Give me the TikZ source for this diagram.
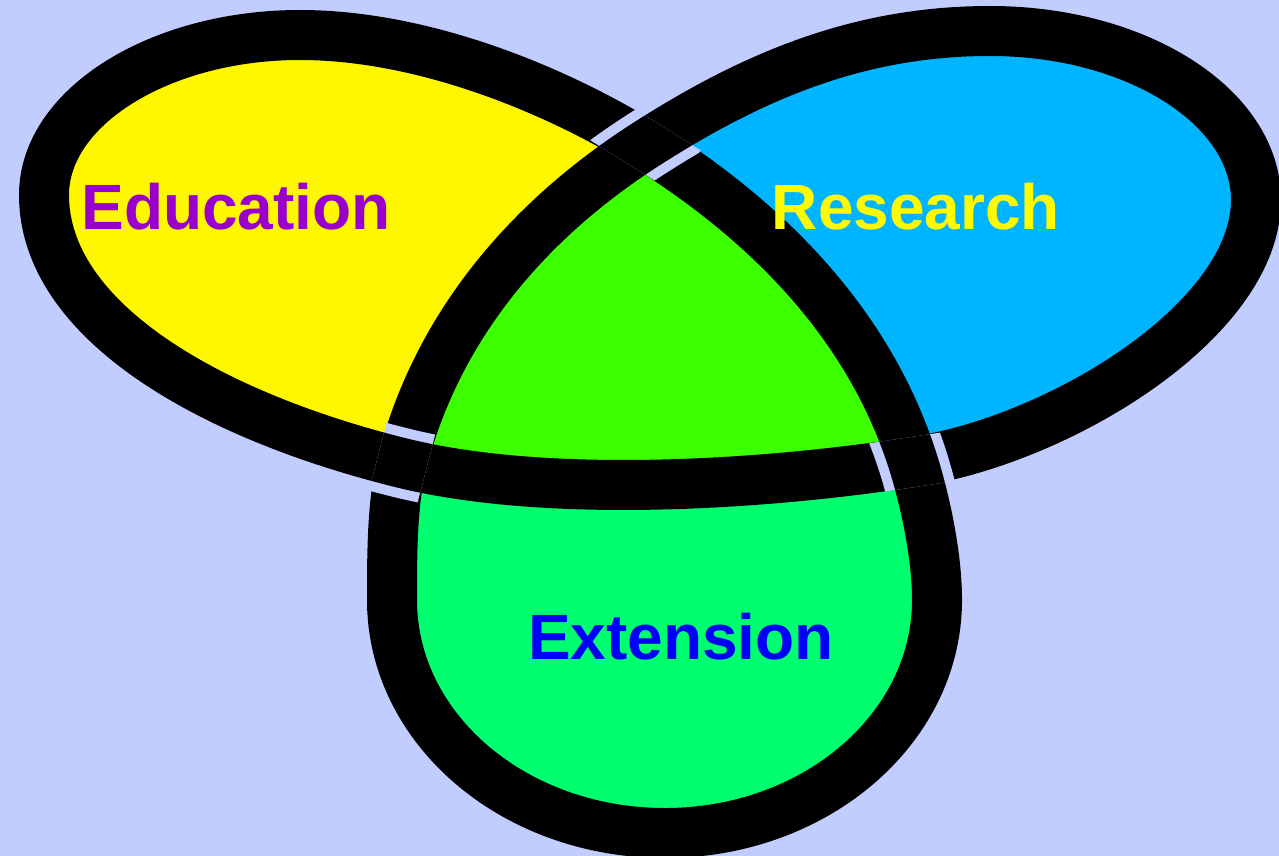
\documentclass[tikz,border=0pt]{standalone}
\usepackage{fontspec}
\setmainfont{Liberation Sans}
\definecolor{bgc}{RGB}{193,204,255}
\definecolor{eduFill}{RGB}{255,247,0}
\definecolor{resFill}{RGB}{0,181,255}
\definecolor{cenFill}{RGB}{60,255,0}
\definecolor{extFill}{RGB}{0,255,110}
\definecolor{eduText}{RGB}{153,0,204}
\definecolor{resText}{RGB}{255,250,0}
\definecolor{extText}{RGB}{0,0,250}
\begin{document}
\begin{tikzpicture}[x=1pt,y=-1pt,line join=round]
\tikzset{
  band/.style={draw=black, line width=50pt},
  halo/.style={draw=bgc, line width=70pt},
  lbl/.style={font=\bfseries\fontsize{64}{64}\selectfont, anchor=base, inner sep=0pt}
}
\useasboundingbox (0,0) rectangle (1279,856);
\fill[bgc] (0,0) rectangle (1279,856);

% crossings
\coordinate (T) at (645,145);
\coordinate (L) at (402,463);
\coordinate (R) at (913,462);

% lobe fills
\fill[eduFill] (L) .. controls (208,415) and (44,320) .. (44,195)
  .. controls (44,107) and (160,35) .. (300,35)
  .. controls (420,35) and (551,87) .. (T)
  .. controls (527,221) and (437,327) .. (L) -- cycle;
\fill[resFill] (T) .. controls (754,75) and (860,31) .. (990,31)
  .. controls (1137,31) and (1256,107) .. (1256,200)
  .. controls (1256,320) and (1060,440) .. (R)
  .. controls (869,324) and (768,222) .. (T) -- cycle;
\fill[extFill] (R) .. controls (925,500) and (937,555) .. (937,600)
  .. controls (937,729) and (815,833) .. (665,833)
  .. controls (514,833) and (392,729) .. (392,600)
  .. controls (392,555) and (392,502) .. (L)
  .. controls (548,499) and (764,485) .. (R) -- cycle;
\fill[cenFill] (T) .. controls (768,222) and (869,324) .. (R)
  .. controls (764,485) and (548,499) .. (L)
  .. controls (437,327) and (527,221) .. (T) -- cycle;

% the knot band
\draw[band] (T) .. controls (768,222) and (869,324) .. (R)
  .. controls (925,500) and (937,555) .. (937,600)
  .. controls (937,729) and (815,833) .. (665,833)
  .. controls (514,833) and (392,729) .. (392,600)
  .. controls (392,555) and (392,502) .. (L)
  .. controls (437,327) and (527,221) .. (T)
  .. controls (754,75) and (860,31) .. (990,31)
  .. controls (1137,31) and (1256,107) .. (1256,200)
  .. controls (1256,320) and (1060,440) .. (R)
  .. controls (764,485) and (548,499) .. (L)
  .. controls (208,415) and (44,320) .. (44,195)
  .. controls (44,107) and (160,35) .. (300,35)
  .. controls (420,35) and (551,87) .. (T) -- cycle;

% crossing at T: diagonal over
\begin{scope}
  \clip[shift={(T)}, rotate=-32] (-50,-25) rectangle (50,25);
  \draw[halo] (L) .. controls (437,327) and (527,221) .. (T)
    .. controls (754,75) and (860,31) .. (990,31);
  \draw[band] (L) .. controls (437,327) and (527,221) .. (T)
    .. controls (754,75) and (860,31) .. (990,31);
\end{scope}
% crossing at L: horizontal over
\begin{scope}
  \clip[shift={(L)}, rotate=75.5] (-50,-25) rectangle (50,25);
  \draw[halo] (R) .. controls (764,485) and (548,499) .. (L)
    .. controls (208,415) and (44,320) .. (44,195);
  \draw[band] (R) .. controls (764,485) and (548,499) .. (L)
    .. controls (208,415) and (44,320) .. (44,195);
\end{scope}
% crossing at R: right edge over
\begin{scope}
  \clip[shift={(R)}, rotate=188.6] (-50,-25) rectangle (50,25);
  \draw[halo] (T) .. controls (768,222) and (869,324) .. (R)
    .. controls (925,500) and (937,555) .. (937,600);
  \draw[band] (T) .. controls (768,222) and (869,324) .. (R)
    .. controls (925,500) and (937,555) .. (937,600);
\end{scope}

% labels
\node[lbl, text=eduText] (edu) at (236,229) {Education};
\node[lbl, text=resText] (res) at (916,229) {Research};
\node[lbl, text=extText] (ext) at (681,659) {Extension};
\end{tikzpicture}
\end{document}
